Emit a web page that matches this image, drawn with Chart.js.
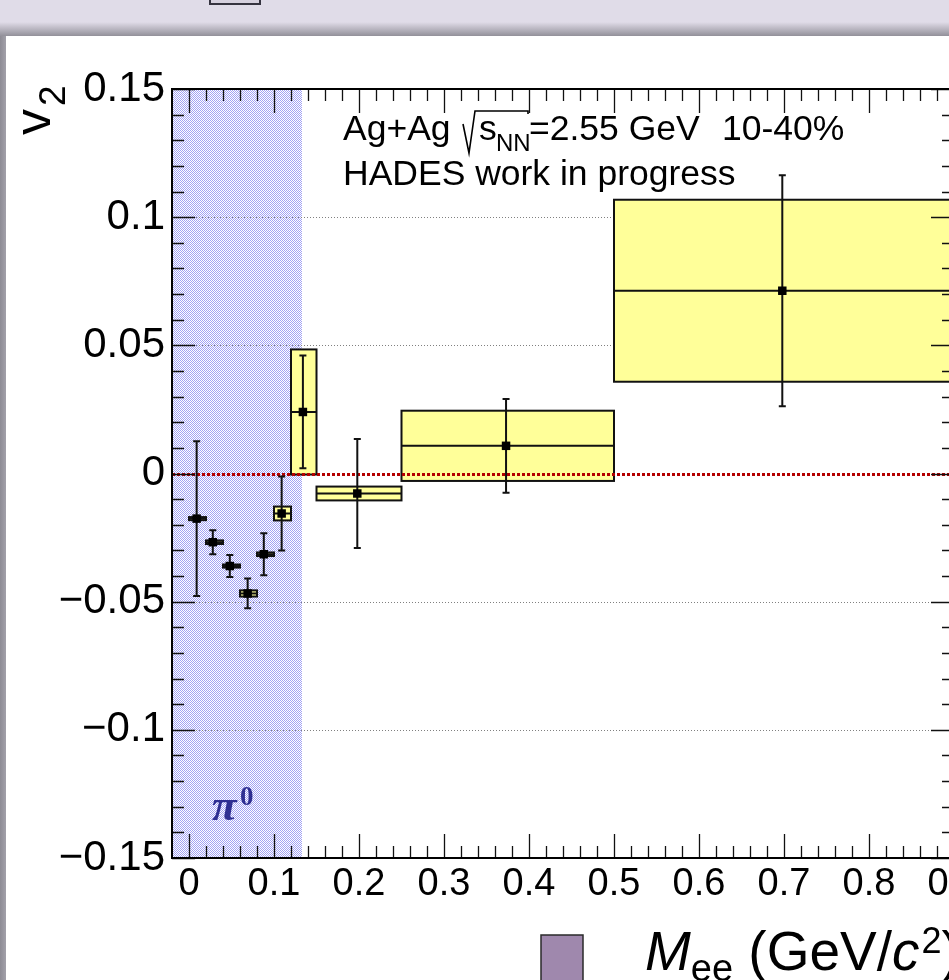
<!DOCTYPE html>
<html>
<head>
<meta charset="utf-8">
<script src="https://cdn.jsdelivr.net/npm/chart.js@4.4.1/dist/chart.umd.min.js"></script>
<style>
  html, body { margin: 0; padding: 0; width: 949px; height: 980px; overflow: hidden; background: #e0dce8; }
  #shadow { position: absolute; left: 0; top: 22px; width: 949px; height: 15px; background: linear-gradient(#e0dce8, #8d8b94); }
  #side { position: absolute; left: 0; top: 36px; width: 6px; height: 944px; background: linear-gradient(90deg, #8d8b94, #a3a1aa); }
  #pad { position: absolute; left: 6px; top: 36px; width: 943px; height: 944px; background: #ffffff; }
  #tab { position: absolute; left: 209px; top: -12px; width: 48px; height: 13px; border: 2px solid #35333f; background: #d6d1de; }
  #c { position: absolute; left: 0; top: 0; }
</style>
</head>
<body>
<div id="shadow"></div>
<div id="side"></div>
<div id="pad"></div>
<div id="tab"></div>
<canvas id="c" width="1000" height="980" style="width:1000px;height:980px"></canvas>
<script>
// Dielectron elliptic flow v2 versus invariant mass, Ag+Ag 2.55 GeV, 10-40% centrality

// Mass bins (GeV/c^2): lower / upper edges and mean mass of each bin
const massLow  = [0.00, 0.02, 0.04, 0.06, 0.08, 0.10, 0.12, 0.15, 0.25, 0.50];
const massHigh = [0.02, 0.04, 0.06, 0.08, 0.10, 0.12, 0.15, 0.25, 0.50, 0.90];
const massMean = [0.009, 0.028, 0.048, 0.069, 0.088, 0.109, 0.134, 0.198, 0.373, 0.698];
// v2 values with statistical and systematic uncertainties
const v2Value  = [-0.0176, -0.0268, -0.0361, -0.0468, -0.0315, -0.0156, 0.0240, -0.0078, 0.0108, 0.0713];
const statErr  = [0.0302, 0.0047, 0.0043, 0.0058, 0.0082, 0.0144, 0.0220, 0.0213, 0.0183, 0.0451];
const sysErr   = [0.0006, 0.0007, 0.0006, 0.0012, 0.0007, 0.0027, 0.0244, 0.0027, 0.0137, 0.0355];

// Axis ticks and labels
const xTickValues = [0, 0.1, 0.2, 0.3, 0.4, 0.5, 0.6, 0.7, 0.8, 0.9];
const xTickLabels = ['0', '0.1', '0.2', '0.3', '0.4', '0.5', '0.6', '0.7', '0.8', '0.9'];
const yTickValues = [-0.15, -0.1, -0.05, 0, 0.05, 0.1, 0.15];
const yTickLabels = ['\u22120.15', '\u22120.1', '\u22120.05', '0', '0.05', '0.1', '0.15'];
const yGridValues = [-0.1, -0.05, 0.05, 0.1];

// Mass range dominated by pi0 Dalitz decays
const pi0Range = [-0.02, 0.133];

const FONT = '"Liberation Sans", Arial, Helvetica, sans-serif';

function makeStipple(ctx) {
  const p = document.createElement('canvas');
  p.width = 2; p.height = 2;
  const g = p.getContext('2d');
  g.fillStyle = '#ffffff';
  g.fillRect(0, 0, 2, 2);
  g.fillStyle = '#a2a2f4';
  g.fillRect(0, 0, 1, 1);
  g.fillRect(1, 1, 1, 1);
  return ctx.createPattern(p, 'repeat');
}

const hadesPlugin = {
  id: 'hadesPlot',
  beforeDatasetsDraw(chart) {
    const { ctx, chartArea: a, scales: { x, y } } = chart;
    ctx.save();
    ctx.fillStyle = '#ffffff';
    ctx.fillRect(a.left, a.top, a.right - a.left, a.bottom - a.top);
    // pi0 region
    const px0 = x.getPixelForValue(pi0Range[0]);
    const px1 = Math.round(x.getPixelForValue(pi0Range[1]));
    ctx.fillStyle = makeStipple(ctx);
    ctx.fillRect(px0, a.top, px1 - px0, a.bottom - a.top);

    // horizontal grid
    ctx.strokeStyle = '#808080';
    ctx.lineWidth = 1;
    ctx.setLineDash([1, 2]);
    yGridValues.forEach(v => {
      const py = Math.round(y.getPixelForValue(v)) + 0.5;
      ctx.beginPath(); ctx.moveTo(a.left, py); ctx.lineTo(a.right, py); ctx.stroke();
    });
    ctx.setLineDash([]);

    // systematic boxes
    for (let i = 0; i < massMean.length; i++) {
      const l = x.getPixelForValue(massLow[i]);
      const r = x.getPixelForValue(massHigh[i]);
      const t = y.getPixelForValue(v2Value[i] + sysErr[i]);
      const b = y.getPixelForValue(v2Value[i] - sysErr[i]);
      ctx.fillStyle = '#ffff99';
      ctx.fillRect(l, t, r - l, b - t);
      ctx.strokeStyle = '#111';
      ctx.lineWidth = 2;
      ctx.strokeRect(l, t, r - l, b - t);
      const py = y.getPixelForValue(v2Value[i]);
      ctx.beginPath(); ctx.moveTo(l, py); ctx.lineTo(r, py); ctx.stroke();
    }

    // zero line
    const y0 = Math.round(y.getPixelForValue(0)) + 0.5;
    ctx.strokeStyle = '#b40000';
    ctx.lineWidth = 3;
    ctx.setLineDash([3, 2]);
    ctx.beginPath(); ctx.moveTo(a.left, y0); ctx.lineTo(a.right, y0); ctx.stroke();
    ctx.setLineDash([]);

    // statistical error bars
    ctx.strokeStyle = '#111';
    ctx.lineWidth = 2;
    for (let i = 0; i < massMean.length; i++) {
      const px = x.getPixelForValue(massMean[i]);
      const t = y.getPixelForValue(v2Value[i] + statErr[i]);
      const b = y.getPixelForValue(v2Value[i] - statErr[i]);
      ctx.beginPath();
      ctx.moveTo(px, t); ctx.lineTo(px, b);
      ctx.moveTo(px - 3.5, t); ctx.lineTo(px + 3.5, t);
      ctx.moveTo(px - 3.5, b); ctx.lineTo(px + 3.5, b);
      ctx.stroke();
    }
    ctx.restore();
  },
  afterDatasetsDraw(chart) {
    const { ctx, chartArea: a, scales: { x, y } } = chart;
    ctx.save();
    ctx.strokeStyle = '#111';
    ctx.lineWidth = 1.3;
    // x ticks every 0.02, long at every 0.1
    for (let k = 0; k <= 45; k++) {
      const v = k / 50;
      const px = Math.round(x.getPixelForValue(v)) + 0.5;
      const len = (k % 5 === 0) ? 24 : 12;
      ctx.beginPath();
      ctx.moveTo(px, a.bottom); ctx.lineTo(px, a.bottom - len);
      ctx.moveTo(px, a.top); ctx.lineTo(px, a.top + len);
      ctx.stroke();
    }
    // y ticks every 0.01, long at every 0.05
    for (let k = -15; k <= 15; k++) {
      const v = k / 100;
      const py = Math.round(y.getPixelForValue(v)) + 0.5;
      const len = (k % 5 === 0) ? 23 : 12;
      ctx.beginPath();
      ctx.moveTo(a.left, py); ctx.lineTo(a.left + len, py);
      ctx.moveTo(a.right, py); ctx.lineTo(a.right - len, py);
      ctx.stroke();
    }
    // frame
    ctx.lineWidth = 2;
    ctx.strokeStyle = '#000';
    ctx.strokeRect(a.left, a.top, a.right - a.left, a.bottom - a.top);
    ctx.restore();
  },
  afterDraw(chart) {
    const { ctx } = chart;
    ctx.save();
    ctx.fillStyle = '#000';
    ctx.textBaseline = 'alphabetic';

    // header
    ctx.font = '35.5px ' + FONT;
    ctx.fillText('Ag+Ag', 343, 140);
    ctx.strokeStyle = '#000';
    ctx.lineWidth = 1.6;
    ctx.beginPath();
    ctx.moveTo(463, 124); ctx.lineTo(469, 153); ctx.lineTo(475, 111);
    ctx.lineTo(528, 111); ctx.lineTo(528, 114);
    ctx.stroke();
    ctx.fillText('s', 479, 140);
    ctx.font = '24px ' + FONT;
    ctx.fillText('NN', 496, 151);
    ctx.font = '35.5px ' + FONT;
    ctx.fillText('=2.55 GeV', 529, 140);
    ctx.fillText('10-40%', 722, 140);
    ctx.fillText('HADES work in progress', 343, 185);

    // pi0 label
    ctx.fillStyle = '#2e2e92';
    ctx.font = 'italic bold 45px "Liberation Serif", "Times New Roman", serif';
    ctx.fillText('\u03c0', 212, 820);
    ctx.font = 'bold 27px "Liberation Serif", "Times New Roman", serif';
    ctx.fillText('0', 240, 805);

    // y-axis title, rotated
    ctx.fillStyle = '#000';
    ctx.save();
    ctx.translate(50, 135);
    ctx.rotate(-Math.PI / 2);
    ctx.font = '52px ' + FONT;
    ctx.fillText('v', 0, 0);
    ctx.font = '37px ' + FONT;
    ctx.fillText('2', 29, 15);
    ctx.restore();

    // x-axis title
    let cx = 645;
    const base = 970;
    ctx.font = 'italic 55px ' + FONT;
    ctx.fillText('M', cx, base); cx += ctx.measureText('M').width;
    ctx.font = '38px ' + FONT;
    ctx.fillText('ee', cx, base + 11); cx += ctx.measureText('ee').width;
    ctx.font = '55px ' + FONT;
    ctx.fillText(' (GeV/', cx, base); cx += ctx.measureText(' (GeV/').width;
    ctx.font = 'italic 55px ' + FONT;
    ctx.fillText('c', cx, base); cx += ctx.measureText('c').width;
    ctx.font = '36px ' + FONT;
    ctx.fillText('2', cx + 2, base - 17); cx += ctx.measureText('2').width + 2;
    ctx.font = '55px ' + FONT;
    ctx.fillText(')', cx, base);

    // colour key square below the axis
    ctx.fillStyle = '#9f88ad';
    ctx.fillRect(541, 935, 42, 50);
    ctx.strokeStyle = '#2a2a2a';
    ctx.lineWidth = 1.5;
    ctx.strokeRect(541, 935, 42, 50);
    ctx.restore();
  }
};

new Chart(document.getElementById('c'), {
  type: 'scatter',
  data: {
    datasets: [{
      label: 'v2',
      data: massMean.map((m, i) => ({ x: m, y: v2Value[i] })),
      pointStyle: 'rect',
      pointRadius: 6,
      pointHoverRadius: 6,
      backgroundColor: '#000',
      borderColor: '#000',
      borderWidth: 0
    }]
  },
  options: {
    responsive: false,
    animation: false,
    devicePixelRatio: 1,
    layout: { padding: { top: 89, right: 46, bottom: 62, left: 0 } },
    plugins: { legend: { display: false }, tooltip: { enabled: false } },
    scales: {
      x: {
        type: 'linear', min: -0.02, max: 0.9,
        afterFit(s) { s.height = 60; },
        afterBuildTicks(s) { s.ticks = xTickValues.map(v => ({ value: v })); },
        grid: { display: false, drawTicks: false },
        border: { display: false },
        ticks: {
          autoSkip: false, maxRotation: 0, padding: 4, color: '#000',
          font: { family: FONT, size: 38 },
          callback: (v, i) => xTickLabels[i]
        }
      },
      y: {
        type: 'linear', min: -0.15, max: 0.15,
        afterFit(s) { s.width = 172; },
        afterBuildTicks(s) { s.ticks = yTickValues.map(v => ({ value: v })); },
        grid: { display: false, drawTicks: false },
        border: { display: false },
        ticks: {
          autoSkip: false, padding: 7, color: '#000',
          font: { family: FONT, size: 42 },
          callback: (v, i) => yTickLabels[i]
        }
      }
    }
  },
  plugins: [hadesPlugin]
});
</script>
</body>
</html>
